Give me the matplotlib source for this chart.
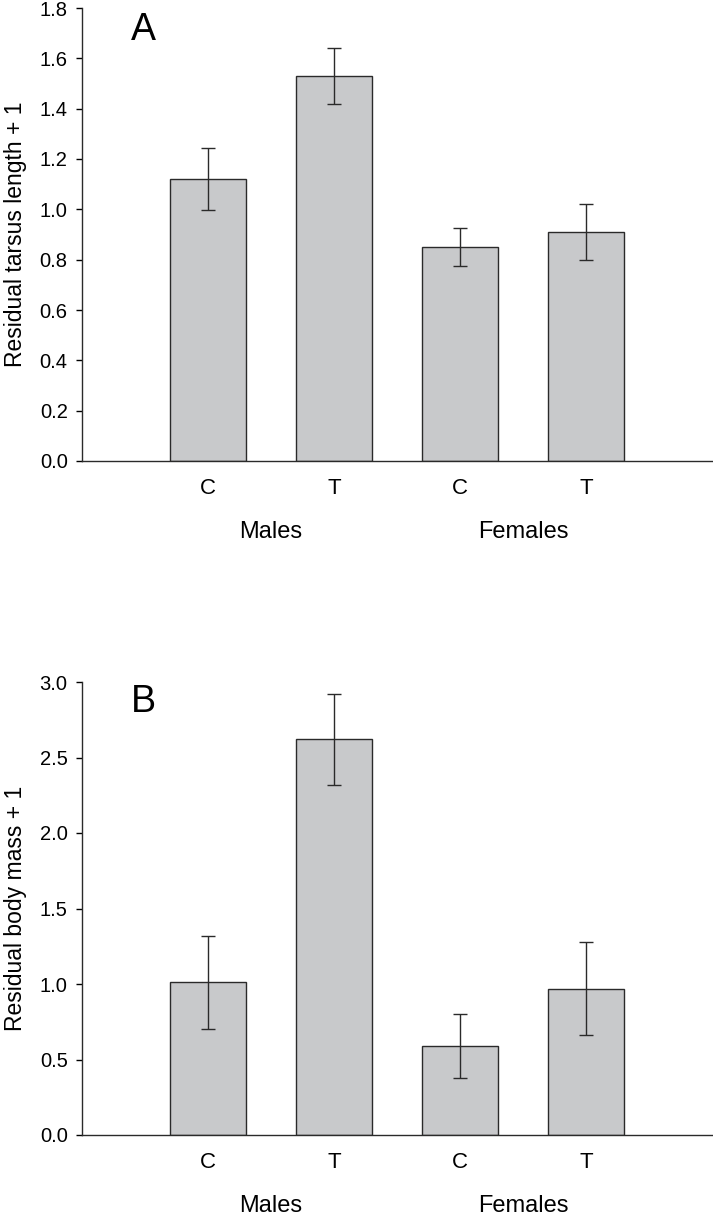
import matplotlib
matplotlib.use("Agg")
import matplotlib.pyplot as plt
import numpy as np

plt.rcParams['font.family'] = ['Liberation Sans', 'DejaVu Sans']

categories = ["C", "T", "C", "T"]
groups = ["Males", "Females"]

tarsus_mean = [1.12, 1.53, 0.85, 0.91]
tarsus_err = [0.123, 0.11, 0.075, 0.11]

mass_mean = [1.01, 2.62, 0.59, 0.97]
mass_err = [0.305, 0.30, 0.21, 0.31]

W, H = 713, 1215
fig = plt.figure(figsize=(W / 100, H / 100), dpi=100)

def make_ax(top_px, bottom_px):
    left = 82 / W
    right = 712 / W
    return fig.add_axes([left, 1 - bottom_px / H, right - left, (bottom_px - top_px) / H])

def draw(ax, means, errs, ymax, step, ylabel, letter, letter_y):
    x = np.arange(1, len(means) + 1)
    ax.bar(x, means, width=0.6, color="#c8c9cb", edgecolor="#2a2a2a", linewidth=1.0, zorder=2)
    ax.errorbar(x, means, yerr=errs, fmt="none", ecolor="#2a2a2a", elinewidth=1.0,
                capsize=5, capthick=1.0, zorder=3)
    ax.set_xlim(0, 5)
    ax.set_ylim(0, ymax)
    ticks = np.arange(0, ymax + 1e-9, step)
    ax.set_yticks(ticks)
    ax.set_yticklabels([f"{v:.1f}" for v in ticks])
    ax.set_xticks(x)
    ax.set_xticklabels(categories)
    ax.tick_params(axis="x", length=0, pad=12, labelsize=16)
    ax.tick_params(axis="y", direction="out", length=4.3, width=1, pad=6, labelsize=14.5)
    for s in ["top", "right"]:
        ax.spines[s].set_visible(False)
    for s in ["left", "bottom"]:
        ax.spines[s].set_linewidth(1.0)
        ax.spines[s].set_color("#2a2a2a")
    ax.set_ylabel(ylabel, fontsize=16.5, labelpad=9)
    trans = ax.get_xaxis_transform()
    ax.text(1.5, -0.156, groups[0], transform=trans, ha="center", va="center", fontsize=17)
    ax.text(3.5, -0.156, groups[1], transform=trans, ha="center", va="center", fontsize=17)
    ax.text(0.49, letter_y, letter, transform=trans, fontsize=27, ha="center", va="baseline")

axA = make_ax(8, 461)
draw(axA, tarsus_mean, tarsus_err, 1.8, 0.2, "Residual tarsus length + 1", "A", 0.929)

axB = make_ax(682, 1135)
draw(axB, mass_mean, mass_err, 3.0, 0.5, "Residual body mass + 1", "B", 0.934)

fig.savefig("out.png", dpi=100)
